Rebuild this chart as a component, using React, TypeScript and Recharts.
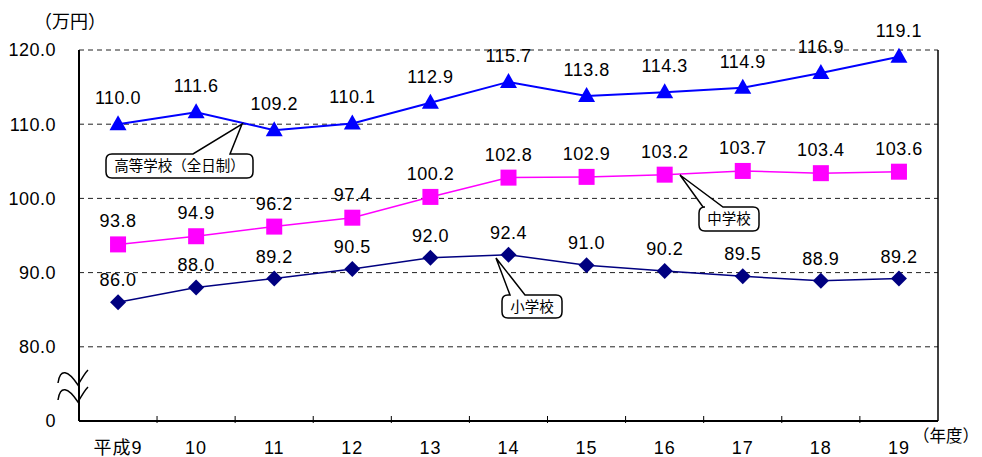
import { CartesianGrid, LabelList, Line, LineChart, XAxis, YAxis } from "recharts";

const years = ["平成9", "10", "11", "12", "13", "14", "15", "16", "17", "18", "19"];
const koukou = [110.0, 111.6, 109.2, 110.1, 112.9, 115.7, 113.8, 114.3, 114.9, 116.9, 119.1];
const chuu = [93.8, 94.9, 96.2, 97.4, 100.2, 102.8, 102.9, 103.2, 103.7, 103.4, 103.6];
const shou = [86.0, 88.0, 89.2, 90.5, 92.0, 92.4, 91.0, 90.2, 89.5, 88.9, 89.2];
const yTicks = [70, 80, 90, 100, 110, 120];

const data = years.map((y, i) => ({ year: y, koukou: koukou[i], chuu: chuu[i], shou: shou[i] }));

const W = 982;
const H = 457;
const M = { top: 50, right: 43, bottom: 6, left: 19 };
const Y_W = 60;
const X_H = 30;
const plotLeft = M.left + Y_W;
const plotW = W - plotLeft - M.right;
const bw = plotW / years.length;

const FONT = '"Liberation Sans", Arial, "Noto Sans CJK JP", sans-serif';
const JP = '"Noto Sans CJK JP", "Liberation Sans", sans-serif';

const Triangle = (p: any) => {
  const { cx, cy } = p;
  if (cx == null) return null;
  return <path d={`M${cx},${cy - 9} L${cx + 8.5},${cy + 6} L${cx - 8.5},${cy + 6} Z`} fill="#0000FF" />;
};
const Square = (p: any) => {
  const { cx, cy } = p;
  if (cx == null) return null;
  return <rect x={cx - 8} y={cy - 8} width={16} height={16} fill="#FF00FF" />;
};
const Diamond = (p: any) => {
  const { cx, cy } = p;
  if (cx == null) return null;
  return <path d={`M${cx},${cy - 8} L${cx + 8},${cy} L${cx},${cy + 8} L${cx - 8},${cy} Z`} fill="#000080" />;
};

const valueLabel = (dy: number) => (p: any) => {
  const { x, y, width, value } = p;
  const cx = x + (width || 0) / 2;
  return (
    <text x={cx} y={y + dy} textAnchor="middle" fontSize={18} letterSpacing={0.5} fontFamily={FONT} fill="#000">
      {Number(value).toFixed(1)}
    </text>
  );
};

const XTick = (p: any) => {
  const { x, y, payload, index } = p;
  return (
    <g>
      <text x={x} y={y + 31} textAnchor="middle" fontSize={18} letterSpacing={1} fontFamily={FONT} fill="#000">
        {payload.value}
      </text>
      {index > 0 && <line x1={x - bw / 2} x2={x - bw / 2} y1={y} y2={y - 7} stroke="#000" strokeWidth={1} />}
    </g>
  );
};

function Callout({ x1, y1, x2, y2, tipX, tipY, baseA, baseB, text }: any) {
  const r = 6;
  return (
    <g>
      <path
        d={`M${x1 + r},${y1} L${baseA},${y1} L${tipX},${tipY} L${baseB},${y1} L${x2 - r},${y1} Q${x2},${y1} ${x2},${y1 + r} L${x2},${y2 - r} Q${x2},${y2} ${x2 - r},${y2} L${x1 + r},${y2} Q${x1},${y2} ${x1},${y2 - r} L${x1},${y1 + r} Q${x1},${y1} ${x1 + r},${y1} Z`}
        fill="#fff"
        stroke="#000"
        strokeWidth={1.5}
      />
      <text x={(x1 + x2) / 2} y={(y1 + y2) / 2 + 5} textAnchor="middle" fontSize={14.5} fontFamily={JP} fill="#000">
        {text}
      </text>
    </g>
  );
}

export default function App() {
  return (
    <div style={{ position: "relative", width: W, height: H, background: "#fff" }}>
      <style>{`body{margin:0}`}</style>
      <LineChart width={W} height={H} data={data} margin={M}>
        <CartesianGrid yAxisId="l" horizontal vertical={false} stroke="#222" strokeDasharray="5 4" strokeWidth={1} />
        <XAxis
          dataKey="year"
          scale="band"
          height={X_H}
          tickLine={false}
          tickSize={0}
          axisLine={{ stroke: "#000", strokeWidth: 2 }}
          tick={<XTick />}
          interval={0}
        />
        <YAxis
          yAxisId="l"
          width={Y_W}
          domain={[70, 120]}
          ticks={yTicks}
          interval={0}
          tickLine={false}
          tickSize={0}
          tickMargin={23}
          axisLine={{ stroke: "#000", strokeWidth: 2 }}
          tick={{ fill: "#000", fontSize: 18, fontFamily: FONT, letterSpacing: 0.5 }}
          tickFormatter={(v: number) => (v === 70 ? "0" : v.toFixed(1))}
        />
        <YAxis yAxisId="r" orientation="right" width={1} domain={[70, 120]} tick={false} tickLine={false} axisLine={{ stroke: "#000", strokeWidth: 1.5 }} />
        <Line yAxisId="l" dataKey="koukou" stroke="#0000FF" strokeWidth={2} dot={<Triangle />} activeDot={false} isAnimationActive={false}>
          <LabelList dataKey="koukou" content={valueLabel(-20)} />
        </Line>
        <Line yAxisId="l" dataKey="chuu" stroke="#FF00FF" strokeWidth={1.5} dot={<Square />} activeDot={false} isAnimationActive={false}>
          <LabelList dataKey="chuu" content={valueLabel(-17)} />
        </Line>
        <Line yAxisId="l" dataKey="shou" stroke="#000080" strokeWidth={1.5} dot={<Diamond />} activeDot={false} isAnimationActive={false}>
          <LabelList dataKey="shou" content={valueLabel(-16)} />
        </Line>
      </LineChart>
      <svg width={W} height={H} style={{ position: "absolute", left: 0, top: 0, pointerEvents: "none" }}>
        <text x={34} y={28} fontSize={18} fontFamily={JP} fill="#000">（万円）</text>
        <text x={913} y={442} fontSize={16.5} fontFamily={JP} fill="#000">（年度）</text>
        <path d="M58,383 C60,368 68,370 78,385 C82,378 85,373 88,370" fill="none" stroke="#000" strokeWidth={1.5} />
        <path d="M58,400 C60,385 68,387 78,402 C82,395 85,390 88,387" fill="none" stroke="#000" strokeWidth={1.5} />
        <Callout x1={106} y1={154} x2={253} y2={178} tipX={242} tipY={124} baseA={193} baseB={230} text="高等学校（全日制）" />
        <Callout x1={699} y1={207} x2={759} y2={231} tipX={680} tipY={175} baseA={703} baseB={723} text="中学校" />
        <Callout x1={502} y1={295} x2={562} y2={318} tipX={496} tipY={258} baseA={510} baseB={525} text="小学校" />
      </svg>
    </div>
  );
}
